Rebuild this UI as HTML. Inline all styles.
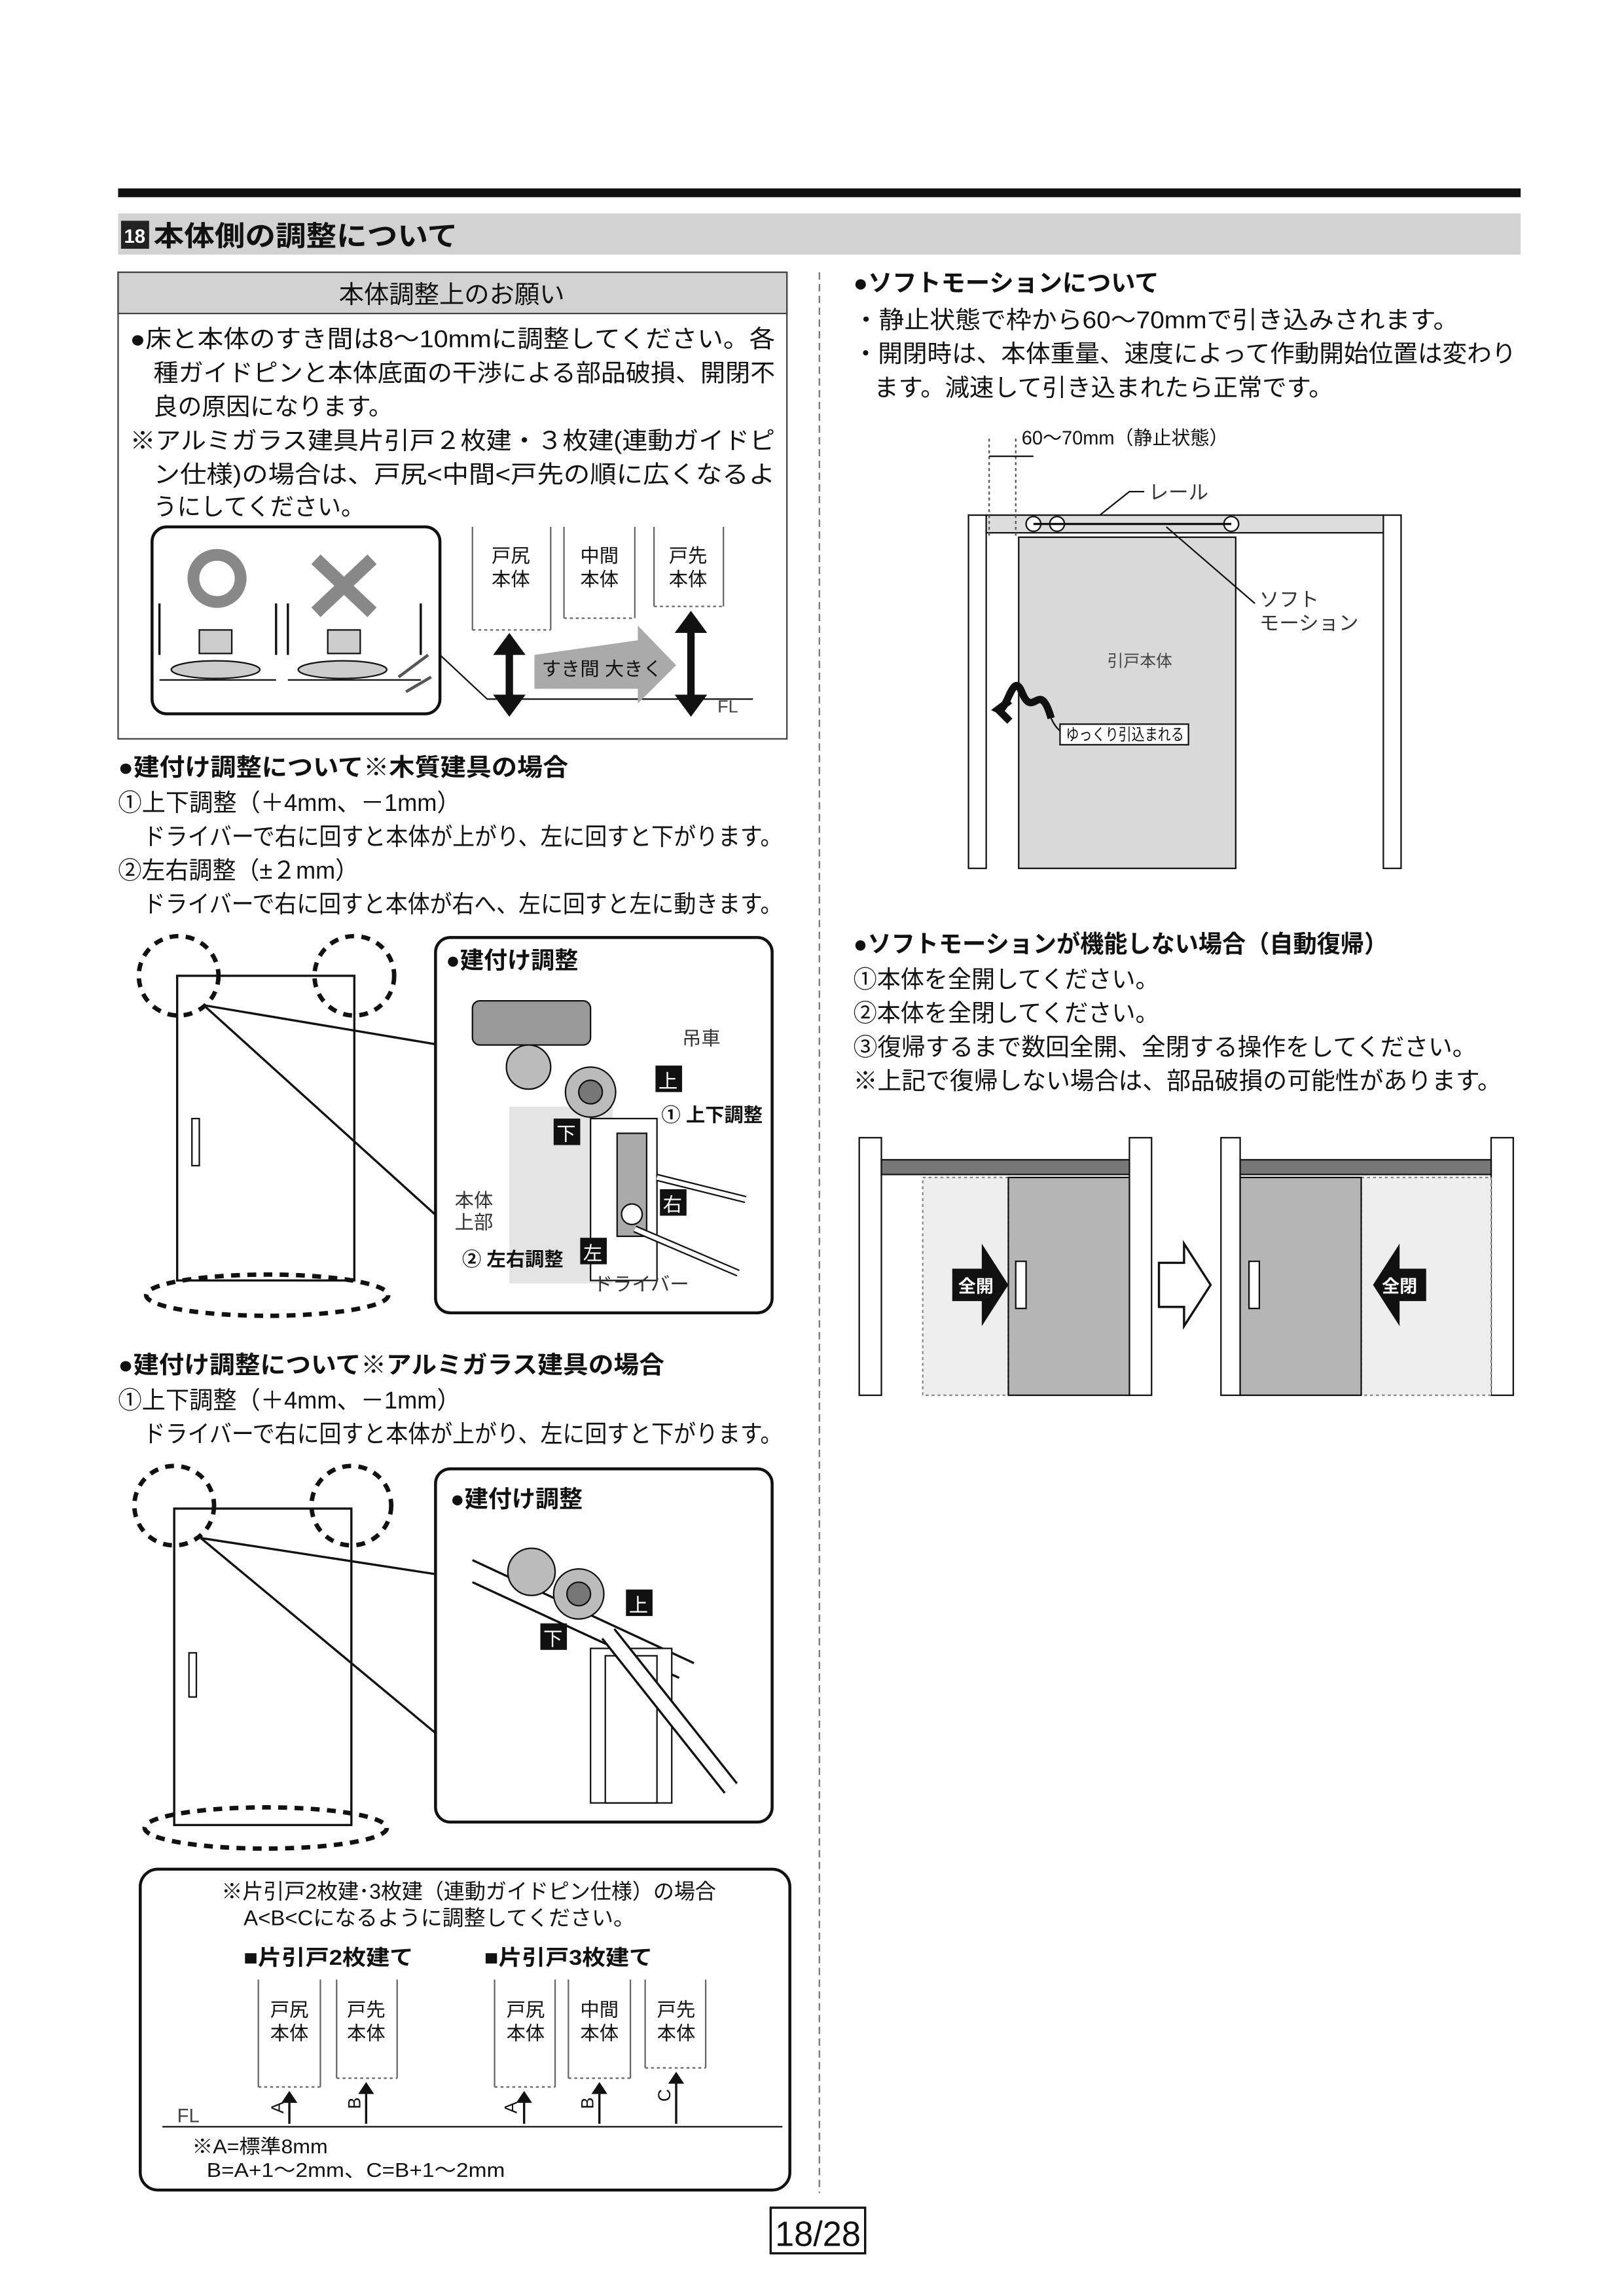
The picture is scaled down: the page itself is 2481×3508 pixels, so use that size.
<!DOCTYPE html>
<html><head><meta charset="utf-8">
<style>
html,body{margin:0;padding:0;background:#fff;}
svg{display:block;}
text{font-family:"Liberation Sans","Noto Sans CJK JP",sans-serif;fill:#111;}
.b{font-weight:bold;}
</style></head>
<body>
<svg width="2481" height="3508" viewBox="0 0 1100 1560" preserveAspectRatio="none" xmlns="http://www.w3.org/2000/svg">
<rect width="1100" height="1560" fill="#fff"/>
<rect x="80" y="128" width="950" height="6" fill="#111"/>
<rect x="80" y="145" width="950" height="28" fill="#d2d2d2"/>
<rect x="82" y="150" width="19" height="19" fill="#222"/>
<text x="84" y="165" font-size="13" class="b" style="fill:#fff">18</text>
<text x="104" y="167" font-size="19" class="b" textLength="206" lengthAdjust="spacingAndGlyphs">本体側の調整について</text>

<rect x="80" y="185" width="453" height="317" fill="none" stroke="#444" stroke-width="1"/>
<rect x="80" y="185" width="453" height="28" fill="#d2d2d2" stroke="#444" stroke-width="1"/>
<text x="306" y="206" font-size="17" text-anchor="middle">本体調整上のお願い</text>
<g font-size="16.5" lengthAdjust="spacingAndGlyphs">
<text x="88" y="236" textLength="437" lengthAdjust="spacingAndGlyphs">●床と本体のすき間は8～10mmに調整してください。各</text>
<text x="104" y="259" textLength="421" lengthAdjust="spacingAndGlyphs">種ガイドピンと本体底面の干渉による部品破損、開閉不</text>
<text x="104" y="282" textLength="162" lengthAdjust="spacingAndGlyphs">良の原因になります。</text>
<text x="88" y="305" textLength="437" lengthAdjust="spacingAndGlyphs">※アルミガラス建具片引戸２枚建・３枚建(連動ガイドピ</text>
<text x="104" y="328" textLength="421" lengthAdjust="spacingAndGlyphs">ン仕様)の場合は、戸尻&lt;中間&lt;戸先の順に広くなるよ</text>
<text x="104" y="350" textLength="143" lengthAdjust="spacingAndGlyphs">うにしてください。</text>
</g>
<rect x="103" y="358" width="195" height="127" rx="10" fill="#fff" stroke="#111" stroke-width="2"/>
<circle cx="147" cy="393" r="16" fill="none" stroke="#888" stroke-width="8"/>
<path d="M214 380 L252 416 M252 380 L214 416" stroke="#888" stroke-width="9"/>
<path d="M108 410 V445 M187 410 V445 M195 410 V445 M285 410 V445" stroke="#111" stroke-width="1.5"/>
<rect x="135" y="428" width="22" height="16" fill="#ccc" stroke="#111"/>
<ellipse cx="146" cy="455" rx="30" ry="6" fill="#ccc" stroke="#111"/>
<rect x="222" y="428" width="22" height="16" fill="#ccc" stroke="#111"/>
<ellipse cx="232" cy="455" rx="30" ry="6" fill="#ccc" stroke="#111"/>
<path d="M108 462 H187 M195 462 H285" stroke="#111"/>
<path d="M270 460 L290 445 M275 470 L292 460" stroke="#555" stroke-width="2"/>
<g font-size="13" text-anchor="middle" style="fill:#444">
<path d="M320 358 V428 M373 358 V428 M382 358 V420 M430 358 V420 M443 358 V412 M490 358 V412" stroke="#666" fill="none"/>
<path d="M320 428 H373 M382 420 H430 M443 412 H490" stroke="#666" stroke-dasharray="2,2"/>
<text x="346" y="382">戸尻</text><text x="346" y="398">本体</text>
<text x="406" y="382">中間</text><text x="406" y="398">本体</text>
<text x="466" y="382">戸先</text><text x="466" y="398">本体</text>
</g>
<path d="M298 445 L330 475 H510" stroke="#111" fill="none"/>
<text x="486" y="484" font-size="12" style="fill:#444">FL</text>
<path d="M345 435 V482" stroke="#111" stroke-width="5"/>
<path d="M334 445 L345 430 L356 445 Z M334 472 L345 487 L356 472 Z" fill="#111"/>
<path d="M468 420 V482" stroke="#111" stroke-width="5"/>
<path d="M457 430 L468 415 L479 430 Z M457 472 L468 487 L479 472 Z" fill="#111"/>
<path d="M362 445 L432 435 L432 425 L458 452 L432 478 L432 468 L362 468 Z" fill="#aaa"/>
<text x="367" y="459" font-size="13">すき間 大きく</text>

<g font-size="16.5">
<text x="80" y="527" class="b" textLength="305" lengthAdjust="spacingAndGlyphs">●建付け調整について※木質建具の場合</text>
<text x="80" y="551" textLength="232" lengthAdjust="spacingAndGlyphs">①上下調整（＋4mm、－1mm）</text>
<text x="97" y="574" textLength="433" lengthAdjust="spacingAndGlyphs">ドライバーで右に回すと本体が上がり、左に回すと下がります。</text>
<text x="80" y="597" textLength="163" lengthAdjust="spacingAndGlyphs">②左右調整（±２mm）</text>
<text x="97" y="620" textLength="433" lengthAdjust="spacingAndGlyphs">ドライバーで右に回すと本体が右へ、左に回すと左に動きます。</text>
</g>
<rect x="120" y="663" width="120" height="207" fill="none" stroke="#111" stroke-width="1.5"/>
<rect x="130" y="760" width="5" height="32" fill="none" stroke="#111"/>
<g fill="none" stroke="#111" stroke-width="3" stroke-dasharray="6,5">
<circle cx="121" cy="663" r="27"/><circle cx="240" cy="663" r="27"/>
<ellipse cx="181" cy="880" rx="82" ry="14"/>
</g>
<path d="M138 683 L300 830 M138 683 L298 710" stroke="#111" stroke-width="1.5"/>
<rect x="295" y="637" width="228" height="255" rx="10" fill="#fff" stroke="#111" stroke-width="2"/>
<text x="302" y="658" font-size="16" class="b">●建付け調整</text>
<rect x="345" y="752" width="70" height="120" fill="#e4e4e4"/>
<rect x="400" y="760" width="45" height="110" fill="#fff" stroke="#111"/>
<rect x="320" y="680" width="80" height="30" rx="5" fill="#999" stroke="#111"/>
<circle cx="358" cy="725" r="15" fill="#bbb" stroke="#111"/>
<circle cx="400" cy="742" r="17" fill="#bbb" stroke="#111"/>
<circle cx="400" cy="742" r="8" fill="#777" stroke="#111"/>
<rect x="418" y="770" width="20" height="70" fill="#aaa" stroke="#111"/>
<circle cx="428" cy="825" r="7" fill="#fff" stroke="#111"/>
<path d="M445 800 L505 815 M430 835 L500 865" stroke="#111" stroke-width="5"/>
<path d="M445 800 L505 815 M430 835 L500 865" stroke="#fff" stroke-width="3"/>
<g font-size="13">
<text x="462" y="710" style="fill:#333">吊車</text>
<rect x="444" y="724" width="18" height="18" fill="#111"/><text x="446" y="739" style="fill:#fff">上</text>
<text x="448" y="762" class="b">① 上下調整</text>
<rect x="375" y="760" width="18" height="18" fill="#111"/><text x="377" y="775" style="fill:#fff">下</text>
<text x="308" y="820" style="fill:#333">本体</text><text x="308" y="835" style="fill:#333">上部</text>
<rect x="447" y="808" width="18" height="18" fill="#111"/><text x="449" y="823" style="fill:#fff">右</text>
<text x="313" y="860" class="b">② 左右調整</text>
<rect x="393" y="841" width="18" height="18" fill="#111"/><text x="395" y="856" style="fill:#fff">左</text>
<text x="402" y="877" style="fill:#333">ドライバー</text>
</g>

<g font-size="16.5">
<text x="80" y="933" class="b" textLength="370" lengthAdjust="spacingAndGlyphs">●建付け調整について※アルミガラス建具の場合</text>
<text x="80" y="957" textLength="232" lengthAdjust="spacingAndGlyphs">①上下調整（＋4mm、－1mm）</text>
<text x="97" y="980" textLength="433" lengthAdjust="spacingAndGlyphs">ドライバーで右に回すと本体が上がり、左に回すと下がります。</text>
</g>
<rect x="118" y="1025" width="120" height="215" fill="none" stroke="#111" stroke-width="1.5"/>
<rect x="128" y="1123" width="5" height="30" fill="none" stroke="#111"/>
<g fill="none" stroke="#111" stroke-width="3" stroke-dasharray="6,5">
<circle cx="118" cy="1023" r="27"/><circle cx="238" cy="1023" r="27"/>
<ellipse cx="180" cy="1242" rx="82" ry="14"/>
</g>
<path d="M136 1045 L298 1180 M136 1045 L298 1070" stroke="#111" stroke-width="1.5"/>
<rect x="295" y="998" width="228" height="240" rx="10" fill="#fff" stroke="#111" stroke-width="2"/>
<text x="305" y="1024" font-size="16" class="b">●建付け調整</text>
<path d="M320 1060 L470 1130 M320 1075 L460 1140" stroke="#111" stroke-width="1.5"/>
<rect x="400" y="1120" width="55" height="105" fill="#fff" stroke="#111"/>
<rect x="410" y="1125" width="35" height="100" fill="none" stroke="#111"/>
<circle cx="360" cy="1068" r="16" fill="#bbb" stroke="#111"/>
<circle cx="392" cy="1083" r="17" fill="#bbb" stroke="#111"/>
<circle cx="392" cy="1083" r="8" fill="#777" stroke="#111"/>
<path d="M412 1110 L495 1215" stroke="#111" stroke-width="12"/>
<path d="M412 1110 L495 1215" stroke="#fff" stroke-width="9"/>
<g font-size="13">
<rect x="424" y="1080" width="18" height="18" fill="#111"/><text x="426" y="1095" style="fill:#fff">上</text>
<rect x="366" y="1103" width="18" height="18" fill="#111"/><text x="368" y="1118" style="fill:#fff">下</text>
</g>

<rect x="95" y="1270" width="440" height="218" rx="12" fill="#fff" stroke="#111" stroke-width="2"/>
<g font-size="14.5">
<text x="150" y="1290" textLength="335" lengthAdjust="spacingAndGlyphs">※片引戸2枚建･3枚建（連動ガイドピン仕様）の場合</text>
<text x="165" y="1308" textLength="265" lengthAdjust="spacingAndGlyphs">A&lt;B&lt;Cになるように調整してください。</text>
<text x="165" y="1335" class="b" textLength="115" lengthAdjust="spacingAndGlyphs">■片引戸2枚建て</text>
<text x="328" y="1335" class="b" textLength="114" lengthAdjust="spacingAndGlyphs">■片引戸3枚建て</text>
</g>
<g font-size="13" text-anchor="middle" style="fill:#444">
<path d="M175 1345 V1418 M217 1345 V1418 M228 1345 V1412 M269 1345 V1412 M335 1345 V1418 M376 1345 V1418 M385 1345 V1412 M427 1345 V1412 M437 1345 V1405 M478 1345 V1405" stroke="#666" fill="none"/>
<path d="M175 1418 H217 M228 1412 H269 M335 1418 H376 M385 1412 H427 M437 1405 H478" stroke="#666" stroke-dasharray="2,2"/>
<text x="196" y="1370">戸尻</text><text x="196" y="1386">本体</text>
<text x="248" y="1370">戸先</text><text x="248" y="1386">本体</text>
<text x="356" y="1370">戸尻</text><text x="356" y="1386">本体</text>
<text x="406" y="1370">中間</text><text x="406" y="1386">本体</text>
<text x="458" y="1370">戸先</text><text x="458" y="1386">本体</text>
</g>
<path d="M110 1445 H530" stroke="#111"/>
<text x="120" y="1442" font-size="13" style="fill:#444">FL</text>
<g stroke="#111" stroke-width="1.5" fill="#111">
<path d="M196 1424 V1443 M248 1418 V1443 M355 1424 V1443 M406 1418 V1443 M458 1411 V1443"/>
<path d="M192 1428 L196 1422 L200 1428 Z M244 1422 L248 1416 L252 1422 Z M351 1428 L355 1422 L359 1428 Z M402 1422 L406 1416 L410 1422 Z M454 1415 L458 1409 L462 1415 Z"/>
</g>
<g font-size="12">
<text x="188" y="1440" transform="rotate(-90 188 1436)">A</text>
<text x="240" y="1437" transform="rotate(-90 240 1433)">B</text>
<text x="346" y="1440" transform="rotate(-90 346 1436)">A</text>
<text x="398" y="1437" transform="rotate(-90 398 1433)">B</text>
<text x="450" y="1432" transform="rotate(-90 450 1428)">C</text>
</g>
<g font-size="13.5" style="fill:#333">
<text x="130" y="1463" textLength="92" lengthAdjust="spacingAndGlyphs">※A=標準8mm</text>
<text x="140" y="1479" textLength="202" lengthAdjust="spacingAndGlyphs">B=A+1～2mm、C=B+1～2mm</text>
</g>

<path d="M555 185 V1490" stroke="#777" stroke-dasharray="5,3"/>

<g font-size="16.5">
<text x="578" y="198" class="b" textLength="207" lengthAdjust="spacingAndGlyphs">●ソフトモーションについて</text>
<text x="578" y="223" textLength="410" lengthAdjust="spacingAndGlyphs">・静止状態で枠から60～70mmで引き込みされます。</text>
<text x="578" y="246" textLength="449" lengthAdjust="spacingAndGlyphs">・開閉時は、本体重量、速度によって作動開始位置は変わり</text>
<text x="592" y="269" textLength="311" lengthAdjust="spacingAndGlyphs">ます。減速して引き込まれたら正常です。</text>
</g>
<rect x="656" y="350" width="12" height="240" fill="#fff" stroke="#111"/>
<rect x="937" y="350" width="12" height="240" fill="#fff" stroke="#111"/>
<rect x="668" y="350" width="269" height="12" fill="#ddd" stroke="#111"/>
<rect x="690" y="365" width="147" height="225" fill="#d9d9d9" stroke="#111"/>
<circle cx="700" cy="356" r="5" fill="#fff" stroke="#111"/>
<circle cx="716" cy="356" r="5" fill="#fff" stroke="#111"/>
<circle cx="834" cy="356" r="5" fill="#fff" stroke="#111"/>
<path d="M700 356 H834" stroke="#111" stroke-width="1.5"/>
<path d="M670 298 V365 M688 298 V365" stroke="#555" stroke-dasharray="2,2"/>
<path d="M670 310 H700" stroke="#111"/>
<text x="692" y="302" font-size="13" textLength="140" lengthAdjust="spacingAndGlyphs">60～70mm（静止状態）</text>
<text x="778" y="339" font-size="13.5" style="fill:#333">レール</text>
<path d="M775 334 H765 L745 350" stroke="#111" fill="none"/>
<path d="M790 358 L850 410" stroke="#111"/>
<text x="853" y="412" font-size="13.5" style="fill:#333">ソフト</text>
<text x="853" y="428" font-size="13.5" style="fill:#333">モーション</text>
<text x="750" y="453" font-size="11" style="fill:#444">引戸本体</text>
<path d="M712 488 C704 460 700 490 692 470 C686 455 682 485 676 482 L684 476 M676 482 L684 490" stroke="#111" stroke-width="5" fill="none"/>
<path d="M712 488 Q715 495 720 498" stroke="#111" fill="none"/>
<rect x="718" y="492" width="87" height="14" fill="#fff" stroke="#111"/>
<text x="722" y="503" font-size="11" textLength="80" lengthAdjust="spacingAndGlyphs">ゆっくり引込まれる</text>

<g font-size="16.5">
<text x="578" y="647" class="b" textLength="362" lengthAdjust="spacingAndGlyphs">●ソフトモーションが機能しない場合（自動復帰）</text>
<text x="578" y="671" textLength="207" lengthAdjust="spacingAndGlyphs">①本体を全開してください。</text>
<text x="578" y="694" textLength="207" lengthAdjust="spacingAndGlyphs">②本体を全閉してください。</text>
<text x="578" y="717" textLength="422" lengthAdjust="spacingAndGlyphs">③復帰するまで数回全開、全閉する操作をしてください。</text>
<text x="578" y="740" textLength="439" lengthAdjust="spacingAndGlyphs">※上記で復帰しない場合は、部品破損の可能性があります。</text>
</g>
<rect x="582" y="773" width="15" height="175" fill="#fff" stroke="#111"/>
<rect x="765" y="773" width="15" height="175" fill="#fff" stroke="#111"/>
<rect x="597" y="788" width="168" height="10" fill="#777" stroke="#111"/>
<rect x="625" y="800" width="58" height="148" fill="#eee" stroke="#888" stroke-dasharray="2,2"/>
<rect x="683" y="800" width="82" height="148" fill="#b5b5b5" stroke="#111"/>
<rect x="688" y="857" width="7" height="32" fill="#fff" stroke="#111"/>
<path d="M645 862 H665 V845 L683 873 L665 901 V884 H645 Z" fill="#111"/>
<text x="649" y="878" font-size="12" class="b" style="fill:#fff">全開</text>
<path d="M785 858 H802 V845 L820 873 L802 901 V888 H785 Z" fill="#fff" stroke="#111" stroke-width="1.5"/>
<rect x="827" y="773" width="13" height="175" fill="#fff" stroke="#111"/>
<rect x="1010" y="773" width="15" height="175" fill="#fff" stroke="#111"/>
<rect x="840" y="788" width="170" height="10" fill="#777" stroke="#111"/>
<rect x="922" y="800" width="88" height="148" fill="#eee" stroke="#888" stroke-dasharray="2,2"/>
<rect x="840" y="800" width="82" height="148" fill="#b5b5b5" stroke="#111"/>
<rect x="846" y="857" width="7" height="32" fill="#fff" stroke="#111"/>
<path d="M966 862 H948 V845 L930 873 L948 901 V884 H966 Z" fill="#111"/>
<text x="936" y="878" font-size="12" class="b" style="fill:#fff">全閉</text>

<rect x="522" y="1500" width="64" height="31" fill="#fff" stroke="#111" stroke-width="1.5"/>
<text x="554" y="1526" font-size="24" text-anchor="middle" textLength="58" lengthAdjust="spacingAndGlyphs">18/28</text>
</svg>
</body></html>
